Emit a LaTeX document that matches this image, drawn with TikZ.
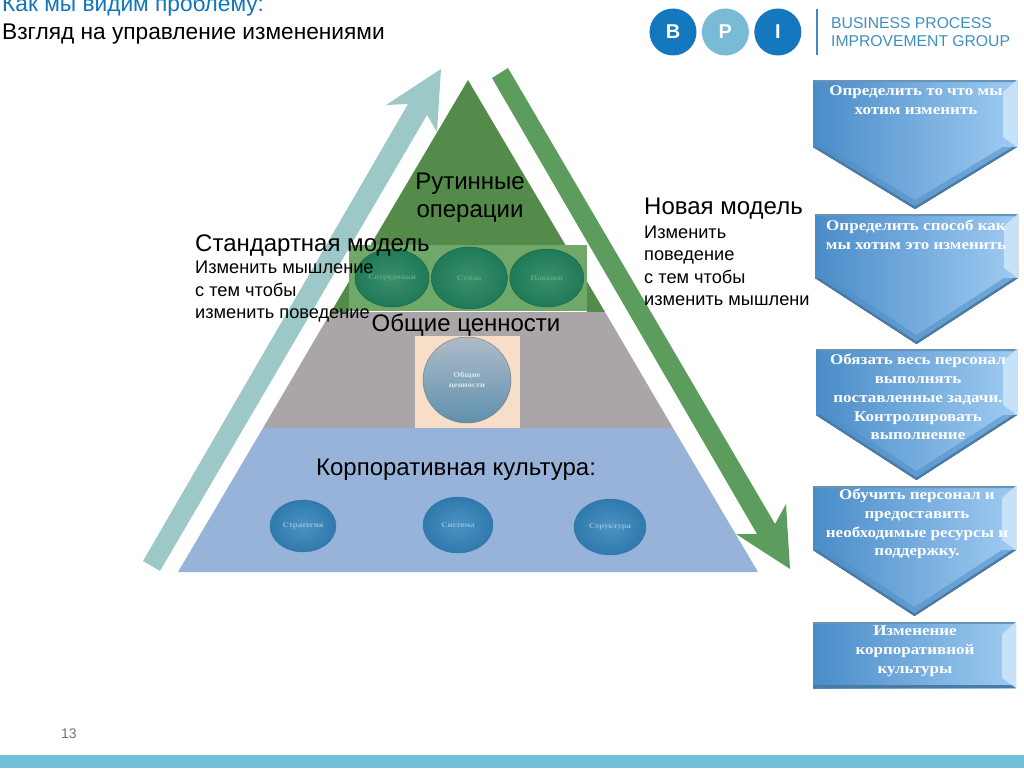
\documentclass[tikz,border=0pt]{standalone}
\usepackage{fontspec}
\setmainfont{Liberation Sans}
\newfontfamily\slabfont[FakeStretch=1.15]{Liberation Serif}
\usetikzlibrary{positioning,calc,shapes.geometric}
\definecolor{barblue}{HTML}{6FC0D6}
\definecolor{logoblue}{HTML}{1478BE}
\definecolor{logolight}{HTML}{79BAD4}
\definecolor{logotext}{HTML}{3E8FBF}
\definecolor{titleblue}{HTML}{0F75BC}
\definecolor{layergreen}{HTML}{548B4A}
\definecolor{layergreenlight}{HTML}{6FA868}
\definecolor{layergrey}{HTML}{A9A5A8}
\definecolor{layerblue}{HTML}{98B3DA}
\definecolor{peach}{HTML}{F6DEC8}
\definecolor{arrowteal}{HTML}{9CC9C8}
\definecolor{arrowgreen}{HTML}{5C9C5C}
\definecolor{chevleft}{HTML}{4A8CC8}
\definecolor{chevright}{HTML}{9FCBF2}
\definecolor{chevdark}{HTML}{2A6496}
\definecolor{chevmid}{HTML}{4F8FC6}
\definecolor{chevlight}{HTML}{C5E2F8}
\definecolor{greeninner}{HTML}{3A8F6C}
\definecolor{greenouter}{HTML}{1F7A58}
\definecolor{greenink}{HTML}{5FA87E}
\definecolor{blueinner}{HTML}{4C93C4}
\definecolor{blueouter}{HTML}{2F79AC}
\definecolor{blueink}{HTML}{8CC0DC}
\definecolor{valuetop}{HTML}{AEBCC8}
\definecolor{valuebottom}{HTML}{5F90AE}
\tikzset{
  biglabel/.style={inner sep=0pt,align=center,font=\fontsize{24}{28}\selectfont},
  sidelabel/.style={inner sep=0pt,align=left,anchor=north west,font=\fontsize{18.2}{22.2}\selectfont},
  chevtext/.style={inner sep=0pt,align=center,text=white,font=\slabfont\bfseries\fontsize{14.8}{18.8}\selectfont},
  logoball/.style={circle,minimum size=47pt,inner sep=0pt,text=white,font=\bfseries\fontsize{20}{20}\selectfont},
  greenball/.style={ellipse,inner sep=0pt,inner color=greeninner,outer color=greenouter,draw=greenouter!80!black,text=greenink,font=\slabfont\bfseries\fontsize{7.5}{10}\selectfont},
  blueball/.style={ellipse,inner sep=0pt,inner color=blueinner,outer color=blueouter,draw=blueouter,text=blueink,font=\slabfont\bfseries\fontsize{7.5}{10}\selectfont},
  valueball/.style={ellipse,inner sep=0pt,top color=valuetop,bottom color=valuebottom,draw=layergrey!70!black,align=center,text=valuetop!40!white,font=\slabfont\bfseries\fontsize{7.5}{10}\selectfont},
}
% bevelled box: left, right, top, shoulder, tip
\newcommand{\chevbg}[5]{
  \fill[left color=chevleft,right color=chevright] (#1,#3) -- (#2,#3) -- (#2,#4) -- ({(#1+#2)/2},#5) -- (#1,#4) -- cycle;
  \fill[chevdark!70] (#1,#3) -- (#2,#3) -- (#2-2,#3+2) -- (#1+2,#3+2) -- cycle;
  \fill[chevlight] (#2,#3) -- (#2,#4) -- (#2-14,#4-10) -- (#2-14,#3+12) -- cycle;
  \fill[chevmid,opacity=.55] (#1,#4) -- ({(#1+#2)/2},#5) -- (#2,#4) -- (#2-14,#4) -- ({(#1+#2)/2},#5-9) -- (#1+14,#4) -- cycle;
  \fill[chevdark!85] (#1,#4) -- ({(#1+#2)/2},#5) -- (#2,#4) -- (#2-4,#4) -- ({(#1+#2)/2},#5-2.5) -- (#1+4,#4) -- cycle;
}
\begin{document}
\begin{tikzpicture}[x=1pt,y=-1pt]
\useasboundingbox (0,0) rectangle (1024,768);
\fill[barblue] (0,755) rectangle (1024,768);
% arrows
\fill[arrowteal] (143,561) -- (408,104) -- (386,105) -- (441,69) -- (437,132) -- (427,115) -- (160,571) -- cycle;
\fill[arrowgreen] (492,78) -- (508,68) -- (775,524) -- (786,504) -- (790,569) -- (736,534) -- (757,534) -- cycle;
% pyramid
\fill[layergreen] (468,80) -- (605,312) -- (331,312) -- cycle;
\fill[layergrey] (331,312) -- (605,312) -- (673,428) -- (263,428) -- cycle;
\fill[layerblue] (263,428) -- (673,428) -- (758,572) -- (178,572) -- cycle;
\fill[layergreenlight] (349,245) rectangle (587,311);
\fill[white] (349,311) rectangle (587,312);
\fill[peach] (415,336) rectangle (520,428);
% circles on the layers
\node[greenball,minimum width=74pt,minimum height=58pt] (staff) at (392,278) {Сотрудники};
\node[greenball,minimum width=76pt,minimum height=62pt,right=2pt of staff] (style) {Стиль};
\node[greenball,minimum width=74pt,minimum height=58pt,right=2pt of style] (skills) {Навыки};
\node[valueball,minimum width=88pt,minimum height=86pt] (values) at (467,380) {Общие\\ценности};
\node[blueball,minimum width=66pt,minimum height=52pt] (strategy) at (303,526) {Стратегия};
\node[blueball,minimum width=70pt,minimum height=56pt] (system) at (458,525) {Система};
\node[blueball,minimum width=72pt,minimum height=56pt] (structure) at (610,527) {Структура};
% labels
\node[biglabel] (routine) at (470,198) {Рутинные\\операции};
\node[biglabel] (shared) at (466,325) {Общие ценности};
\node[biglabel] (culture) at (456,470) {Корпоративная культура:};
\node[biglabel,anchor=base west] (stdmodel) at (195,251) {Стандартная модель};
\node[sidelabel,below=5pt of stdmodel.south west,anchor=north west] (stdtext) {Изменить мышление\\с тем чтобы\\изменить поведение};
\node[biglabel,anchor=base west] (newmodel) at (644,214) {Новая модель};
\node[sidelabel,below=7pt of newmodel.south west,anchor=north west] (newtext) {Изменить\\поведение\\с тем чтобы\\изменить мышлени};
% chevrons
\chevbg{813}{1017}{80}{147}{209}
\node[chevtext] (step1) at (916,100) {Определить то что мы\\хотим изменить};
\chevbg{815}{1018}{214}{278}{344}
\node[chevtext] (step2) at (916,235) {Определить способ как\\мы хотим это изменить};
\chevbg{816}{1017}{349}{415}{480}
\node[chevtext] (step3) at (918,397) {Обязать весь персонал\\выполнять\\поставленные задачи.\\Контролировать\\выполнение};
\chevbg{813}{1016}{486}{550}{616}
\node[chevtext] (step4) at (917,524) {Обучить персонал и\\предоставить\\необходимые ресурсы и\\поддержку.};
\fill[left color=chevleft,right color=chevright] (813,622) rectangle (1016,688);
\fill[chevdark!70] (813,622) rectangle (1016,624);
\fill[chevdark!85] (813,685) rectangle (1016,688);
\fill[chevlight] (1016,622) -- (1016,688) -- (1002,678) -- (1002,634) -- cycle;
\node[chevtext] (step5) at (915,651) {Изменение\\корпоративной\\культуры};
% header
\node[anchor=base west,inner sep=0pt,text=titleblue,font=\fontsize{22.7}{26}\selectfont] (heading) at (2,12) {Как мы видим проблему:};
\node[anchor=base west,inner sep=0pt,font=\fontsize{22.7}{26}\selectfont] (subheading) at (2,40) {Взгляд на управление изменениями};
\node[logoball,fill=logoblue] (logoB) at (673,32) {B};
\node[logoball,fill=logolight,right=5pt of logoB] (logoP) {P};
\node[logoball,fill=logoblue,right=5pt of logoP] (logoI) {I};
\draw[logotext,line width=1.2pt] (817,9) -- (817,55);
\node[anchor=west,inner sep=0pt,align=left,text=logotext,font=\fontsize{15.7}{17.5}\selectfont] (logotext) at (831,32) {BUSINESS PROCESS\\IMPROVEMENT GROUP};
\node[anchor=base west,inner sep=0pt,text=black!55,font=\fontsize{14}{16}\selectfont] (pagenum) at (61,738) {13};
\end{tikzpicture}
\end{document}
